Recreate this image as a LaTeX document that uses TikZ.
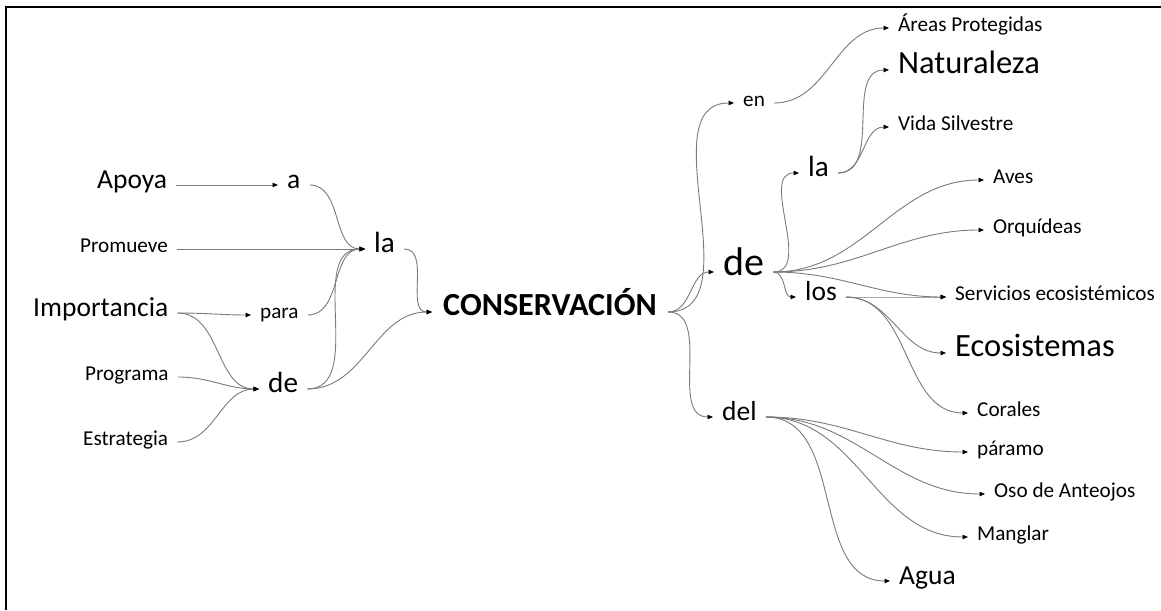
\documentclass[tikz,border=0pt]{standalone}
\usepackage{fontspec}
\setmainfont{Carlito}
\usetikzlibrary{arrows.meta}
\tikzset{
  w/.style={anchor=west, inner xsep=9pt, inner ysep=0pt, text height=0.62em, text depth=0pt},
  s20/.style={w, font=\fontsize{21.2}{23}\selectfont},
  s26/.style={w, font=\fontsize{27.5}{29}\selectfont},
  s28/.style={w, font=\fontsize{29.2}{31}\selectfont},
  s31/.style={w, font=\fontsize{32.5}{34}\selectfont},
  s39/.style={w, font=\fontsize{40}{42}\selectfont},
  conn/.style={draw=black!52, line width=0.9pt, -{Triangle[length=5.5pt,width=4.5pt,black]}},
  sc/.style={conn, out=0, in=180}
}
\begin{document}
\begin{tikzpicture}[x=1pt,y=1pt]
\useasboundingbox (0,0) rectangle (1161,610);
\draw[line width=1.8pt] (6,0) -- (6,603) -- (1161,603);
% left side
\node[s26] (apoya) at (88,425) {Apoya};
\node[s26] (a) at (278,425) {a};
\node[s20] (promueve) at (71,361) {Promueve};
\node[s28] (la) at (365,361) {la};
\node[s26] (importancia) at (24,297) {Importancia};
\node[s20] (para) at (251,295) {para};
\node[s20] (programa) at (76,233) {Programa};
\node[s28] (de) at (259,221) {de};
\node[s20] (estrategia) at (74,168) {Estrategia};
\node[w, inner xsep=11pt, font=\fontsize{32.2}{34}\selectfont\bfseries] (cons) at (432,298) {CONSERVACIÓN};
% right side
\node[s20] (en) at (734,507) {en};
\node[s20] (areas) at (889,582) {Áreas Protegidas};
\node[s31] (naturaleza) at (889,540) {Naturaleza};
\node[s20] (vida) at (889,483) {Vida Silvestre};
\node[s28] (la2) at (799,437) {la};
\node[s39] (de2) at (714,338) {de};
\node[s26] (los) at (796,313) {los};
\node[s20] (aves) at (984,430) {Aves};
\node[s20] (orq) at (984,380) {Orquídeas};
\node[s20] (serv) at (946,313) {Servicios ecosistémicos};
\node[s31] (eco) at (946,257) {Ecosistemas};
\node[s20] (corales) at (968,197) {Corales};
\node[s20] (paramo) at (968,158) {páramo};
\node[s20] (oso) at (985,116) {Oso de Anteojos};
\node[s20] (manglar) at (968,73) {Manglar};
\node[s26] (agua) at (890,29) {Agua};
\node[s26] (del) at (713,193) {del};
% connectors left
\draw[conn] (apoya.east) -- (a.west);
\draw[sc] (a.east) to (la.west);
\draw[conn] (promueve.east) -- (la.west);
\draw[sc] (importancia.east) to (para.west);
\draw[sc] (para.east) to (la.west);
\draw[sc] (importancia.east) to (de.west);
\draw[sc] (programa.east) to (de.west);
\draw[sc] (estrategia.east) to (de.west);
\draw[sc] (de.east) to (la.west);
\draw[sc] (la.east) to (cons.west);
\draw[sc] (de.east) to (cons.west);
% connectors right
\draw[sc] (cons.east) to (en.west);
\draw[sc] (cons.east) to (de2.west);
\draw[sc] (cons.east) to (del.west);
\draw[sc] (en.east) to (areas.west);
\draw[sc] (de2.east) to (la2.west);
\draw[sc] (de2.east) to (los.west);
\draw[sc] (de2.east) to (aves.west);
\draw[sc] (de2.east) to (orq.west);
\draw[sc] (de2.east) to (serv.west);
\draw[sc] (la2.east) to (naturaleza.west);
\draw[sc] (la2.east) to (vida.west);
\draw[sc] (los.east) to (serv.west);
\draw[sc] (los.east) to (eco.west);
\draw[sc] (los.east) to (corales.west);
\draw[sc] (del.east) to (paramo.west);
\draw[sc] (del.east) to (oso.west);
\draw[sc] (del.east) to (manglar.west);
\draw[sc] (del.east) to (agua.west);
\end{tikzpicture}
\end{document}
